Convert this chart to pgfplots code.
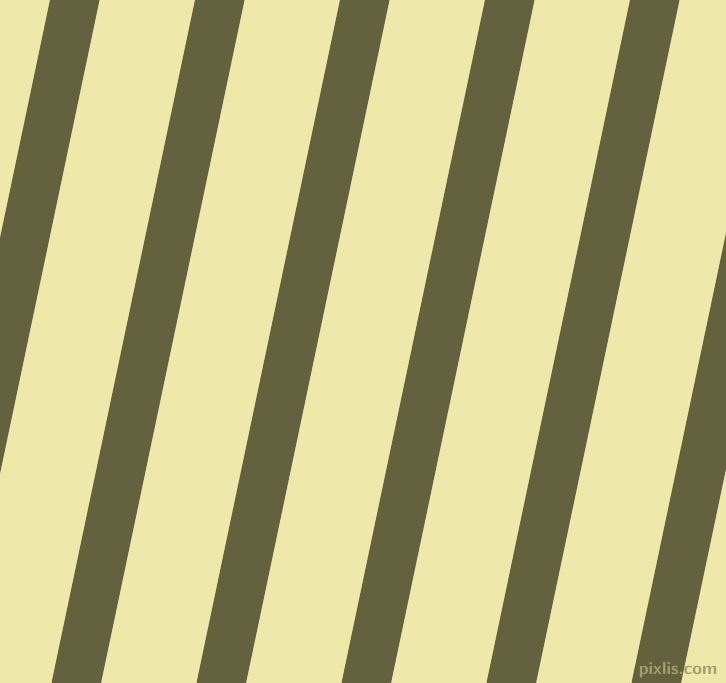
\documentclass[border=0pt]{standalone}
\usepackage{pgfplots}
\pgfplotsset{compat=1.18}
\definecolor{bgc}{RGB}{238,232,170}
\definecolor{stc}{RGB}{99,97,62}
\begin{document}
\begin{tikzpicture}
\begin{axis}[
  scale only axis, width=7.26cm, height=6.83cm,
  xmin=0, xmax=726, ymin=0, ymax=683,
  hide axis, clip=true,
  axis background/.style={fill=bgc},
]
% stripes: (bottom-left, bottom-right, top-right, top-left); y=683 is the top edge
\addplot[fill=stc, draw=none] coordinates {(-93.5,0) (-44,0) (99.5,683) (50,683)} --cycle;
\addplot[fill=stc, draw=none] coordinates {(51.5,0) (101,0) (244.5,683) (195,683)} --cycle;
\addplot[fill=stc, draw=none] coordinates {(196.5,0) (246,0) (389.5,683) (340,683)} --cycle;
\addplot[fill=stc, draw=none] coordinates {(341.5,0) (391,0) (534.5,683) (485,683)} --cycle;
\addplot[fill=stc, draw=none] coordinates {(486.5,0) (536,0) (679.5,683) (630,683)} --cycle;
\addplot[fill=stc, draw=none] coordinates {(631.5,0) (681,0) (824.5,683) (775,683)} --cycle;
\node[anchor=base east, inner sep=0pt, font=\fontsize{5}{5}\selectfont\sffamily\bfseries, text=stc!55!bgc] at (axis cs:718,8) {pixlis.com};
\end{axis}
\end{tikzpicture}
\end{document}
